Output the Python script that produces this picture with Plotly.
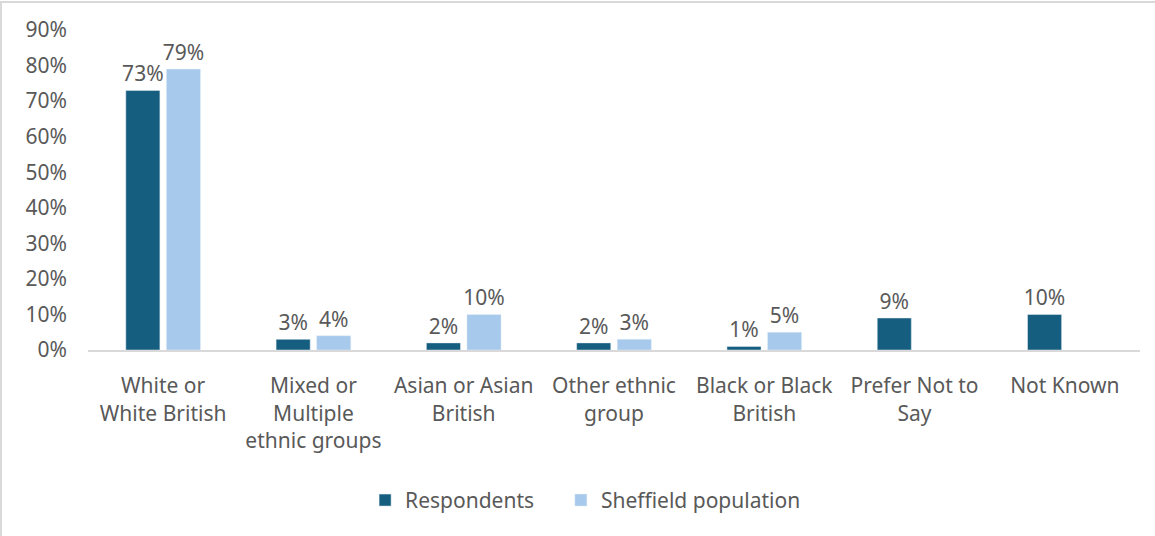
import plotly.graph_objects as go

categories = [
    "White or<br>White British",
    "Mixed or<br>Multiple<br>ethnic groups",
    "Asian or Asian<br>British",
    "Other ethnic<br>group",
    "Black or Black<br>British",
    "Prefer Not to<br>Say",
    "Not Known",
]
respondents = [73, 3, 2, 2, 1, 9, 10]
sheffield = [79, 4, 10, 3, 5, None, None]
y_ticks = [0, 10, 20, 30, 40, 50, 60, 70, 80, 90]
y_tick_text = [f"{v}%" for v in y_ticks]

TEXT = "#595959"
FONT = "Noto Sans"
SIZE = 21
PAD = "\u00a0" * 4  # extra room between the two legend entries

def labels(vals):
    return [f"{v}%" if v is not None else "" for v in vals]

fig = go.Figure()
fig.add_trace(go.Bar(
    name="Respondents" + PAD, x=categories, y=respondents,
    marker_color="#165e80",
    text=labels(respondents), textposition="outside", constraintext="none",
    textfont=dict(size=SIZE, color=TEXT, family=FONT),
    cliponaxis=False,
))
fig.add_trace(go.Bar(
    name="Sheffield population", x=categories, y=sheffield,
    marker_color="#a6c9ec",
    text=labels(sheffield), textposition="outside", constraintext="none",
    textfont=dict(size=SIZE, color=TEXT, family=FONT),
    cliponaxis=False,
))

fig.update_layout(
    width=1155, height=536,
    margin=dict(l=88, r=15, t=30, b=186),
    paper_bgcolor="white", plot_bgcolor="white",
    font=dict(family=FONT, size=SIZE, color=TEXT),
    barmode="group", bargap=0.46, bargroupgap=0.16,
    showlegend=True,
    legend=dict(orientation="h", x=0.473, xanchor="center", y=-0.47, yanchor="middle",
                font=dict(size=SIZE, color=TEXT), itemwidth=30, traceorder="normal"),
    shapes=[dict(type="rect", xref="paper", yref="paper",
                 x0=-87 / 1052, x1=1.2, y0=-1.0, y1=1 + 28 / 320,
                 line=dict(color="#d9d9d9", width=2), layer="below")],
)
fig.update_yaxes(range=[0, 90], tickmode="array", tickvals=y_ticks, ticktext=y_tick_text,
                 showgrid=False, zeroline=False, showline=False, ticklabelstandoff=20,
                 tickfont=dict(size=SIZE, color=TEXT))
fig.update_xaxes(showline=True, linecolor="#d9d9d9", linewidth=2, ticks="",
                 ticklabelstandoff=16, tickfont=dict(size=SIZE, color=TEXT))

fig.write_html("out.html")
